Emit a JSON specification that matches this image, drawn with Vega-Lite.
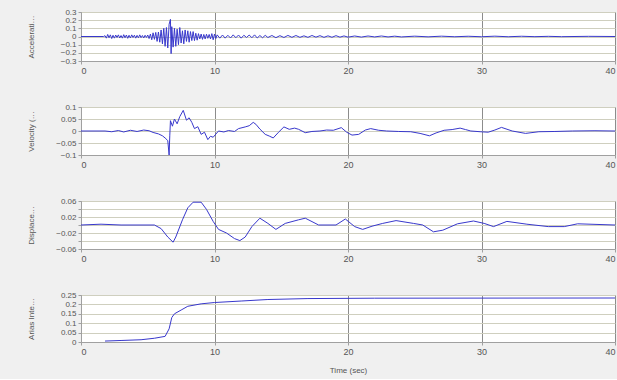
{
  "$schema": "https://vega.github.io/schema/vega-lite/v6.json",
  "background": "#f0f0f0",
  "padding": {"left": 26, "top": 7, "right": 0, "bottom": 4},
  "spacing": 46,
  "bounds": "flush",
  "datasets": {
    "acc": [
      {"t":0,"v":0},{"t":1.7,"v":0},{"t":1.8,"v":0.01},{"t":1.9,"v":-0.02},{"t":2.0,"v":0.025},{"t":2.1,"v":-0.015},{"t":2.2,"v":0.02},{"t":2.3,"v":-0.025},{"t":2.4,"v":0.015},{"t":2.5,"v":-0.02},{"t":2.6,"v":0.018},{"t":2.7,"v":-0.012},{"t":2.8,"v":0.02},{"t":2.9,"v":-0.018},{"t":3.0,"v":0.012},{"t":3.1,"v":-0.02},{"t":3.2,"v":0.022},{"t":3.3,"v":-0.015},{"t":3.4,"v":0.018},{"t":3.5,"v":-0.022},{"t":3.6,"v":0.015},{"t":3.7,"v":-0.018},{"t":3.8,"v":0.02},{"t":3.9,"v":-0.012},{"t":4.0,"v":0.016},{"t":4.1,"v":-0.02},{"t":4.2,"v":0.014},{"t":4.3,"v":-0.016},{"t":4.4,"v":0.02},{"t":4.5,"v":-0.014},{"t":4.6,"v":0.012},{"t":4.7,"v":-0.018},{"t":4.8,"v":0.015},{"t":4.9,"v":-0.012},{"t":5.0,"v":0.018},{"t":5.1,"v":-0.025},{"t":5.2,"v":0.03},{"t":5.3,"v":-0.04},{"t":5.4,"v":0.045},{"t":5.5,"v":-0.035},{"t":5.6,"v":0.05},{"t":5.7,"v":-0.06},{"t":5.8,"v":0.055},{"t":5.9,"v":-0.07},{"t":6.0,"v":0.08},{"t":6.1,"v":-0.09},{"t":6.2,"v":0.1},{"t":6.3,"v":-0.12},{"t":6.4,"v":0.11},{"t":6.5,"v":-0.14},{"t":6.6,"v":0.15},{"t":6.7,"v":0.21},{"t":6.75,"v":-0.21},{"t":6.8,"v":0.12},{"t":6.9,"v":-0.13},{"t":7.0,"v":0.1},{"t":7.1,"v":-0.12},{"t":7.2,"v":0.09},{"t":7.3,"v":-0.1},{"t":7.4,"v":0.11},{"t":7.5,"v":-0.08},{"t":7.6,"v":0.07},{"t":7.7,"v":-0.09},{"t":7.8,"v":0.08},{"t":7.9,"v":-0.06},{"t":8.0,"v":0.07},{"t":8.1,"v":-0.07},{"t":8.2,"v":0.06},{"t":8.3,"v":-0.05},{"t":8.4,"v":0.06},{"t":8.5,"v":-0.05},{"t":8.6,"v":0.04},{"t":8.7,"v":-0.045},{"t":8.8,"v":0.035},{"t":8.9,"v":-0.03},{"t":9.0,"v":0.03},{"t":9.1,"v":-0.035},{"t":9.2,"v":0.025},{"t":9.3,"v":-0.03},{"t":9.4,"v":0.028},{"t":9.5,"v":-0.022},{"t":9.6,"v":0.025},{"t":9.7,"v":-0.03},{"t":9.8,"v":0.035},{"t":9.9,"v":-0.04},{"t":10.0,"v":0.03},{"t":10.1,"v":-0.025},{"t":10.2,"v":0.02},{"t":10.4,"v":-0.02},{"t":10.6,"v":0.018},{"t":10.8,"v":-0.02},{"t":11.0,"v":0.015},{"t":11.2,"v":-0.018},{"t":11.4,"v":0.02},{"t":11.6,"v":-0.015},{"t":11.8,"v":0.018},{"t":12.0,"v":-0.02},{"t":12.2,"v":0.015},{"t":12.4,"v":-0.012},{"t":12.6,"v":0.018},{"t":12.8,"v":-0.015},{"t":13.0,"v":0.02},{"t":13.2,"v":-0.018},{"t":13.4,"v":0.012},{"t":13.6,"v":-0.015},{"t":13.8,"v":0.014},{"t":14.0,"v":-0.012},{"t":14.3,"v":0.012},{"t":14.6,"v":-0.014},{"t":14.9,"v":0.01},{"t":15.2,"v":-0.012},{"t":15.5,"v":0.013},{"t":15.8,"v":-0.01},{"t":16.1,"v":0.012},{"t":16.4,"v":-0.01},{"t":16.7,"v":0.008},{"t":17.0,"v":-0.01},{"t":17.3,"v":0.012},{"t":17.6,"v":-0.008},{"t":17.9,"v":0.01},{"t":18.2,"v":-0.01},{"t":18.5,"v":0.008},{"t":18.8,"v":-0.009},{"t":19.1,"v":0.01},{"t":19.4,"v":-0.008},{"t":19.7,"v":0.007},{"t":20.0,"v":-0.008},{"t":20.5,"v":0.006},{"t":21.0,"v":-0.007},{"t":21.5,"v":0.006},{"t":22.0,"v":-0.005},{"t":22.5,"v":0.006},{"t":23.0,"v":-0.005},{"t":23.5,"v":0.004},{"t":24.0,"v":-0.005},{"t":25.0,"v":0.004},{"t":26.0,"v":-0.004},{"t":27.0,"v":0.004},{"t":28.0,"v":-0.003},{"t":29.0,"v":0.003},{"t":30.0,"v":-0.003},{"t":31.0,"v":0.004},{"t":32.0,"v":-0.003},{"t":33.0,"v":0.003},{"t":34.0,"v":-0.002},{"t":35.0,"v":0.002},{"t":36.0,"v":-0.002},{"t":38.0,"v":0.002},{"t":40.0,"v":0}
    ],
    "vel": [
      {"t":0,"v":0},{"t":1.8,"v":0},{"t":2.3,"v":-0.003},{"t":2.8,"v":0.002},{"t":3.2,"v":-0.004},{"t":3.7,"v":0.003},{"t":4.2,"v":-0.002},{"t":4.7,"v":0.004},{"t":5.1,"v":0.001},{"t":5.4,"v":-0.006},{"t":5.8,"v":-0.012},{"t":6.1,"v":-0.02},{"t":6.3,"v":-0.029},{"t":6.5,"v":-0.04},{"t":6.6,"v":-0.1},{"t":6.65,"v":-0.02},{"t":6.7,"v":0.043},{"t":6.85,"v":0.02},{"t":7.0,"v":0.05},{"t":7.2,"v":0.03},{"t":7.4,"v":0.06},{"t":7.66,"v":0.086},{"t":7.9,"v":0.045},{"t":8.1,"v":0.055},{"t":8.3,"v":0.036},{"t":8.5,"v":0.01},{"t":8.75,"v":0.018},{"t":9.0,"v":-0.014},{"t":9.25,"v":-0.005},{"t":9.5,"v":-0.036},{"t":9.7,"v":-0.022},{"t":9.9,"v":-0.026},{"t":10.3,"v":0.0},{"t":10.7,"v":-0.004},{"t":11.05,"v":0.002},{"t":11.5,"v":-0.002},{"t":11.8,"v":0.01},{"t":12.3,"v":0.017},{"t":12.6,"v":0.022},{"t":12.9,"v":0.036},{"t":13.1,"v":0.028},{"t":13.4,"v":0.008},{"t":13.8,"v":-0.014},{"t":14.1,"v":-0.021},{"t":14.4,"v":-0.029},{"t":14.8,"v":-0.005},{"t":15.2,"v":0.017},{"t":15.6,"v":0.007},{"t":16.0,"v":0.012},{"t":16.3,"v":0.007},{"t":16.8,"v":-0.007},{"t":17.3,"v":-0.002},{"t":17.9,"v":0.0},{"t":18.4,"v":0.004},{"t":18.9,"v":0.003},{"t":19.5,"v":0.014},{"t":19.9,"v":-0.005},{"t":20.3,"v":-0.017},{"t":20.8,"v":-0.014},{"t":21.3,"v":0.004},{"t":21.7,"v":0.01},{"t":22.3,"v":0.003},{"t":22.9,"v":0.0},{"t":23.8,"v":-0.002},{"t":24.7,"v":-0.003},{"t":25.4,"v":-0.01},{"t":26.1,"v":-0.02},{"t":26.6,"v":-0.008},{"t":27.2,"v":0.003},{"t":27.8,"v":0.006},{"t":28.4,"v":0.012},{"t":28.8,"v":0.006},{"t":29.2,"v":0.0},{"t":29.9,"v":-0.003},{"t":30.5,"v":-0.005},{"t":31.0,"v":0.004},{"t":31.5,"v":0.015},{"t":32.3,"v":0.0},{"t":33.3,"v":-0.01},{"t":34.3,"v":-0.003},{"t":35.5,"v":-0.002},{"t":36.8,"v":0.0},{"t":38.5,"v":0.001},{"t":40,"v":0.0}
    ],
    "disp": [
      {"t":0,"v":0},{"t":1.5,"v":0.002},{"t":3.0,"v":0.0},{"t":5.5,"v":0},{"t":6.0,"v":-0.009},{"t":6.5,"v":-0.03},{"t":6.9,"v":-0.043},{"t":7.1,"v":-0.03},{"t":7.6,"v":0.013},{"t":8.0,"v":0.043},{"t":8.4,"v":0.057},{"t":9.0,"v":0.057},{"t":9.4,"v":0.039},{"t":9.9,"v":0.009},{"t":10.3,"v":-0.011},{"t":10.9,"v":-0.02},{"t":11.5,"v":-0.034},{"t":11.9,"v":-0.039},{"t":12.3,"v":-0.03},{"t":12.8,"v":-0.004},{"t":13.4,"v":0.017},{"t":14.0,"v":0.004},{"t":14.6,"v":-0.011},{"t":15.3,"v":0.004},{"t":16.3,"v":0.013},{"t":16.8,"v":0.017},{"t":17.8,"v":0.0},{"t":19.1,"v":0.0},{"t":19.8,"v":0.015},{"t":20.5,"v":-0.004},{"t":21.1,"v":-0.011},{"t":21.8,"v":-0.003},{"t":22.6,"v":0.004},{"t":23.6,"v":0.011},{"t":24.9,"v":0.004},{"t":25.6,"v":0.0},{"t":26.4,"v":-0.017},{"t":27.1,"v":-0.013},{"t":28.2,"v":0.003},{"t":29.4,"v":0.01},{"t":30.2,"v":0.004},{"t":30.9,"v":-0.004},{"t":31.9,"v":0.009},{"t":33.4,"v":0.002},{"t":35.0,"v":-0.004},{"t":36.2,"v":-0.004},{"t":37.2,"v":0.003},{"t":40,"v":0.0}
    ],
    "arias": [
      {"t":1.8,"v":0.005},{"t":3.0,"v":0.008},{"t":4.5,"v":0.012},{"t":5.5,"v":0.02},{"t":6.3,"v":0.03},{"t":6.6,"v":0.07},{"t":6.8,"v":0.13},{"t":7.0,"v":0.15},{"t":7.5,"v":0.17},{"t":8.0,"v":0.19},{"t":9.0,"v":0.203},{"t":10.0,"v":0.21},{"t":12.0,"v":0.218},{"t":14.0,"v":0.226},{"t":17.0,"v":0.231},{"t":22.0,"v":0.233},{"t":40,"v":0.234}
    ]
  },
  "vconcat": [
    {
      "width": 534, "height": 49,
      "data": {"name": "acc"},
      "mark": {"type": "line"},
      "encoding": {
        "x": {"field": "t", "type": "quantitative", "scale": {"domain": [0, 40], "nice": false}, "axis": {"title": null, "values": [0, 10, 20, 30, 40]}},
        "y": {"field": "v", "type": "quantitative", "scale": {"domain": [-0.3, 0.3], "nice": false}, "axis": {"title": "Acceleration (g)", "values": [-0.3, -0.2, -0.1, 0, 0.1, 0.2, 0.3]}}
      }
    },
    {
      "width": 534, "height": 48,
      "data": {"name": "vel"},
      "mark": {"type": "line"},
      "encoding": {
        "x": {"field": "t", "type": "quantitative", "scale": {"domain": [0, 40], "nice": false}, "axis": {"title": null, "values": [0, 10, 20, 30, 40]}},
        "y": {"field": "v", "type": "quantitative", "scale": {"domain": [-0.1, 0.1], "nice": false}, "axis": {"title": "Velocity (m/sec)", "values": [-0.1, -0.05, 0, 0.05, 0.1]}}
      }
    },
    {
      "width": 534, "height": 48,
      "data": {"name": "disp"},
      "mark": {"type": "line"},
      "encoding": {
        "x": {"field": "t", "type": "quantitative", "scale": {"domain": [0, 40], "nice": false}, "axis": {"title": null, "values": [0, 10, 20, 30, 40]}},
        "y": {"field": "v", "type": "quantitative", "scale": {"domain": [-0.06, 0.06], "nice": false}, "axis": {"title": "Displacement (m)", "values": [-0.06, -0.04, -0.02, 0, 0.02, 0.04, 0.06]}}
      }
    },
    {
      "width": 534, "height": 47,
      "data": {"name": "arias"},
      "mark": {"type": "line"},
      "encoding": {
        "x": {"field": "t", "type": "quantitative", "scale": {"domain": [0, 40], "nice": false}, "axis": {"title": "Time (sec)", "values": [0, 10, 20, 30, 40], "titlePadding": 10}},
        "y": {"field": "v", "type": "quantitative", "scale": {"domain": [0, 0.25], "nice": false}, "axis": {"title": "Arias Intensity (m/sec)", "values": [0, 0.05, 0.1, 0.15, 0.2, 0.25]}}
      }
    }
  ],
  "config": {
    "font": "Liberation Sans",
    "view": {"stroke": "#b8b8b8", "fill": "white"},
    "axis": {"labelColor": "#555", "titleColor": "#555", "labelFontSize": 8, "titleFontSize": 8, "titleFontWeight": "normal", "domainColor": "#a0a0a0", "tickColor": "#a0a0a0", "tickSize": 3, "labelPadding": 2},
    "axisX": {"gridColor": "#8c8c8c", "gridOpacity": 1, "labelFontSize": 9, "titlePadding": 4, "format": "d"},
    "axisY": {"gridColor": "#cfcfbf", "gridOpacity": 1, "titleLimit": 44, "titleX": -46, "titleAnchor": "middle", "format": "~g"},
    "line": {"color": "#3838cc", "strokeWidth": 1}
  }
}
